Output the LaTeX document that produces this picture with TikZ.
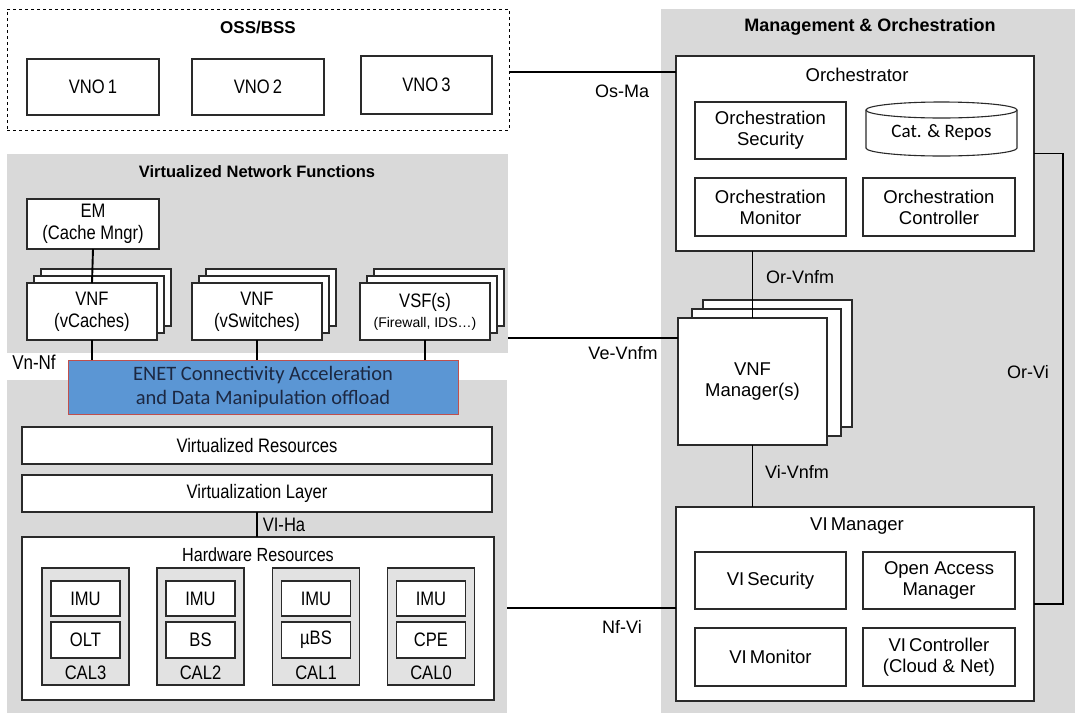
\documentclass[tikz,border=0pt]{standalone}
\usepackage{fontspec}
\setmainfont{Liberation Sans}
\newfontfamily\lfont[FakeStretch=0.85]{Liberation Sans}
\newfontfamily\calib{Carlito}
\usetikzlibrary{calc}
\definecolor{regiongrey}{HTML}{D9D9D9}
\definecolor{calgrey}{HTML}{E2E2E2}
\definecolor{enetblue}{HTML}{5B96D4}
\definecolor{enetred}{HTML}{C0504D}
\definecolor{enettext}{HTML}{1C2842}
\definecolor{boxline}{HTML}{2A2A2A}
\tikzset{
  region/.style={fill=regiongrey, draw=none},
  box/.style={draw=boxline, line width=1.1pt, fill=white, inner sep=0pt, outer sep=0pt, align=center, font=\lfont\fontsize{19.5}{22}\selectfont},
  rbox/.style={box, font=\fontsize{18.5}{21}\selectfont},
  calbox/.style={draw=boxline, line width=1.1pt, fill=calgrey, inner sep=0pt, outer sep=0pt},
  conn/.style={draw=black, line width=1.9pt},
  lbl/.style={inner sep=0pt, font=\fontsize{18}{20}\selectfont},
  llbl/.style={inner sep=0pt, font=\lfont\fontsize{19.5}{22}\selectfont},
  title/.style={inner sep=0pt, font=\fontsize{17}{20}\selectfont\bfseries},
}
\begin{document}
\begin{tikzpicture}[x=1pt, y=-1pt]
\useasboundingbox (0,0) rectangle (1075,713);
% background regions
\fill[region] (7,154) rectangle (508,353);
\fill[region] (7,380) rectangle (507,713);
\fill[region] (661,9) rectangle (1075,713);

% OSS/BSS
\node[draw=black, dashed, line width=1pt, minimum width=502pt, minimum height=121pt, inner sep=0pt] (oss) at (258,69.5) {};
\node[title] (osstitle) at (258,28) {OSS/BSS};
\node[box, minimum width=132pt, minimum height=56pt] (vno1) at (93,87) {VNO\,1};
\node[box, minimum width=132pt, minimum height=56pt] (vno2) at (258,87) {VNO\,2};
\node[box, minimum width=131pt, minimum height=58pt] (vno3) at (426.5,85) {VNO\,3};

% VNF region
\node[title, font=\fontsize{16.5}{20}\selectfont\bfseries] (vnftitle) at (257,172) {Virtualized Network Functions};
\node[box, minimum width=132pt, minimum height=50pt] (em) at (93,224) {EM\\(Cache Mngr)};
% stacks
\foreach \cx/\nm in {92/vnfc, 257/vnfs, 425/vsf}{
  \node[box, minimum width=130pt, minimum height=57pt] (\nm b2) at (\cx+14,297.5) {};
  \node[box, minimum width=130pt, minimum height=57pt] (\nm b1) at (\cx+7,304.5) {};
}
\node[box, minimum width=130pt, minimum height=57pt] (vnfc) at (92,311.5) {VNF\\(vCaches)};
\node[box, minimum width=130pt, minimum height=57pt] (vnfs) at (257,311.5) {VNF\\(vSwitches)};
\node[box, minimum width=130pt, minimum height=57pt] (vsf) at (425,311.5) {VSF(s)\\[-2pt]{\rmfamily\fontsize{14}{16}\selectfont(Firewall, IDS\ldots)}};
\draw[conn] (em.south) -- (vnfc.north);

% ENET
\node[draw=enetred, line width=1pt, fill=enetblue, minimum width=390pt, minimum height=54pt, inner sep=0pt, align=center, text=enettext, font=\calib\fontsize{20.5}{24}\selectfont] (enet) at (263,387) {ENET Connectivity Acceleration\\and Data Manipulation offload};
\draw[conn] (vnfc.south) -- (vnfc.south |- enet.north);
\draw[conn] (vnfs.south) -- (vnfs.south |- enet.north);
\draw[conn] (vsf.south) -- (vsf.south |- enet.north);
\node[llbl, font=\lfont\fontsize{20}{22}\selectfont] (vnnf) at (34,362) {Vn-Nf};

% NFVI
\node[box, minimum width=470pt, minimum height=37pt] (vres) at (257,445.5) {Virtualized Resources};
\node[box, minimum width=470pt, minimum height=37pt] (vlay) at (257,493.5) {Virtualization Layer};
\node[box, minimum width=472pt, minimum height=163pt] (hw) at (258,618.5) {};
\node[llbl, font=\lfont\fontsize{19}{22}\selectfont] (hwtitle) at (258,555) {Hardware Resources};
\draw[conn] (vlay.south) -- (vlay.south |- hw.north);
\node[llbl] (viha) at (284,525) {VI-Ha};
\foreach \cx/\nm/\dev/\cal in {85.5/c3/OLT/CAL3, 200.5/c2/BS/CAL2, 316/c1/µBS/CAL1, 431/c0/CPE/CAL0}{
  \node[calbox, minimum width=87pt, minimum height=117pt] (\nm) at (\cx,626.5) {};
  \node[box, minimum width=69pt, minimum height=35pt] (\nm imu) at (\cx,598.5) {IMU};
  \node[box, minimum width=69pt, minimum height=36pt] (\nm dev) at (\cx,640) {\dev};
  \node[llbl] (\nm lab) at (\cx,673) {\cal};
}

% MANO
\node[title, font=\fontsize{18}{20}\selectfont\bfseries] (manotitle) at (870,27) {Management \& Orchestration};
\node[box, minimum width=358pt, minimum height=195pt] (orch) at (855,153.5) {};
\node[lbl, font=\fontsize{18.5}{21}\selectfont] (orchtitle) at (857,75) {Orchestrator};
\node[rbox, minimum width=151pt, minimum height=57pt] (osec) at (770.5,130.5) {Orchestration\\Security};
\node[rbox, minimum width=151pt, minimum height=58pt] (omon) at (770.5,207) {Orchestration\\Monitor};
\node[rbox, minimum width=152pt, minimum height=58pt] (octl) at (939,207) {Orchestration\\Controller};
% cylinder
\draw[draw=boxline, line width=1.1pt, fill=white] (866,110) -- (866,148) arc[start angle=180, end angle=360, x radius=75.5pt, y radius=8pt] -- (1017,110) arc[start angle=0, end angle=180, x radius=75.5pt, y radius=8pt] -- cycle;
\draw[draw=boxline, line width=1.1pt] (866,110) arc[start angle=180, end angle=360, x radius=75.5pt, y radius=8pt];
\node[inner sep=0pt, font=\calib\fontsize{19}{22}\selectfont] (cat) at (941.5,133) {Cat. \& Repos};

% VNF manager
\node[box, minimum width=149pt, minimum height=127pt] (vnfmb2) at (777.5,363.5) {};
\node[box, minimum width=149pt, minimum height=127pt] (vnfmb1) at (766.5,372.5) {};
\node[rbox, minimum width=149pt, minimum height=127pt] (vnfm) at (752.5,381.5) {VNF\\Manager(s)};
\draw[conn] (vnfm.north) -- (vnfm.north |- orch.south);
\node[lbl] (orvnfm) at (800,277) {Or-Vnfm};

% VI manager
\node[box, minimum width=358pt, minimum height=194pt] (vim) at (855,604) {};
\node[lbl, font=\fontsize{18.5}{21}\selectfont] (vimtitle) at (857,526) {VI\,Manager};
\node[rbox, minimum width=151pt, minimum height=57pt] (visec) at (770.5,580.5) {VI\,Security};
\node[rbox, minimum width=152pt, minimum height=57pt] (oam) at (939,580.5) {Open Access\\Manager};
\node[rbox, minimum width=151pt, minimum height=58pt] (vimon) at (770.5,657) {VI\,Monitor};
\node[rbox, minimum width=152pt, minimum height=58pt] (victl) at (939,657) {VI\,Controller\\(Cloud \& Net)};
\draw[conn] (vnfm.south) -- (vnfm.south |- vim.north);
\node[lbl] (vivnfm) at (797,472) {Vi-Vnfm};

% reference points
\coordinate (vevnfm) at (508,338);
\coordinate (nfvi) at (507,608);
\coordinate (osma) at (509,72);

% connectors
\draw[conn] (osma) -- (osma -| orch.west);
\node[lbl] (osmalab) at (622,91) {Os-Ma};
\draw[conn] (vevnfm) -- (vevnfm -| vnfm.west);
\node[lbl] (vevnfmlab) at (623,353) {Ve-Vnfm};
\draw[conn] (nfvi) -- (nfvi -| vim.west);
\node[lbl] (nfvilab) at (622,627) {Nf-Vi};
\draw[conn] (orch.east) -- ++(29,0) |- (vim.east);
\node[lbl] (orvilab) at (1028,372) {Or-Vi};
\end{tikzpicture}
\end{document}
